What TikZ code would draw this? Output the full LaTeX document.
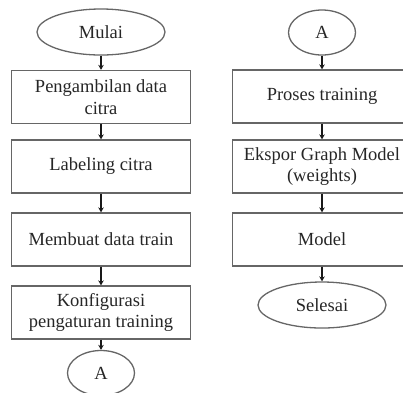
\documentclass[tikz,border=0pt]{standalone}
\usepackage{fontspec}
\setmainfont{Liberation Serif}
\usetikzlibrary{shapes.geometric,arrows.meta}
\begin{document}
\begin{tikzpicture}[x=1pt,y=-1pt,
  every node/.style={font=\fontsize{18.5}{21.5}\selectfont, text=black!85, align=center, inner sep=0pt},
  procbox/.style={draw=black!60, line width=1.3pt, minimum width=179pt, minimum height=53pt},
  term/.style={draw=black!60, line width=1.3pt, ellipse, minimum width=128pt, minimum height=46pt},
  conn/.style={draw=black!60, line width=1.3pt, ellipse, minimum width=67pt, minimum height=45pt},
  flow/.style={draw=black!90, line width=1.8pt, -{Stealth[length=5pt,width=5.5pt]}}]
\useasboundingbox (0,0) rectangle (403,392);
\begin{scope}
\clip (0,0) rectangle (403,392);
% left column
\node[term] (mulai) at (101,32) {Mulai};
\node[procbox] (ambil) at (101,97) {Pengambilan data\\citra};
\node[procbox] (label) at (101,166.5) {Labeling citra};
\node[procbox] (train) at (101,239.5) {Membuat data train};
\node[procbox] (konf) at (101,312.5) {Konfigurasi\\pengaturan training};
\node[conn] (a1) at (101,373) {A};
% right column
\node[conn] (a2) at (322,32.5) {A};
\node[procbox] (proses) at (322,96.5) {Proses training};
\node[procbox] (ekspor) at (322,166.5) {Ekspor Graph Model\\(weights)};
\node[procbox] (model) at (322,239.5) {Model};
\node[term] (selesai) at (322,305) {Selesai};
% connectors
\draw[flow] (mulai) -- (ambil);
\draw[flow] (ambil) -- (label);
\draw[flow] (label) -- (train);
\draw[flow] (train) -- (konf);
\draw[flow] (konf) -- (a1);
\draw[flow] (a2) -- (proses);
\draw[flow] (proses) -- (ekspor);
\draw[flow] (ekspor) -- (model);
\draw[flow] (model) -- (selesai);
\end{scope}
\end{tikzpicture}
\end{document}
